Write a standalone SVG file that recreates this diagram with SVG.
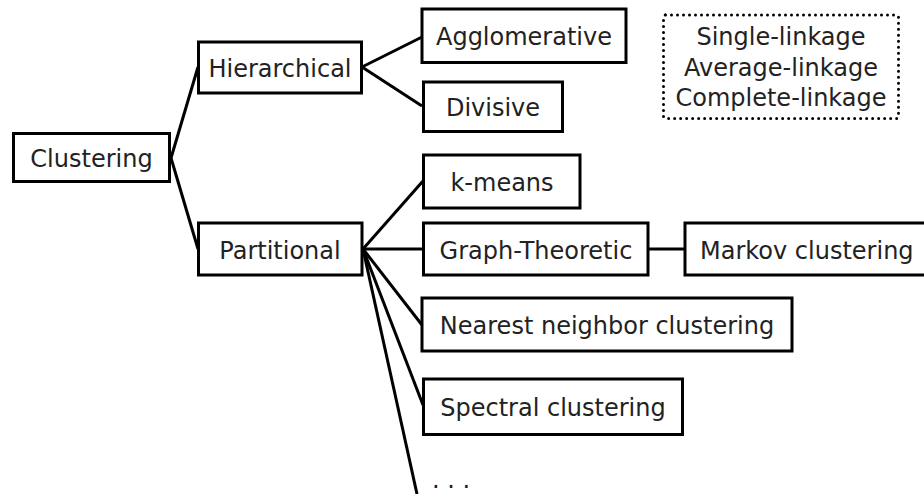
<svg xmlns="http://www.w3.org/2000/svg" width="924" height="494" viewBox="0 0 924 494">
<style>
.box{fill:#fff;stroke:#000;stroke-width:3}
.dot{fill:#fff;stroke:#000;stroke-width:3;stroke-dasharray:0 6;stroke-linecap:round}
.t{font-family:"DejaVu Sans",sans-serif;font-size:24px;fill:#222;text-anchor:middle}
.c line{stroke:#000;stroke-width:3}
</style>
<rect width="924" height="494" fill="#fff"/>
<g class="c" id="connectors">
<line x1="171" y1="158" x2="198" y2="67"/>
<line x1="171" y1="158" x2="198" y2="249"/>
<line x1="362" y1="67" x2="422" y2="37"/>
<line x1="362" y1="67" x2="422" y2="106"/>
<line x1="363" y1="249" x2="423" y2="181"/>
<line x1="363" y1="249" x2="423" y2="249"/>
<line x1="363" y1="249" x2="422" y2="325"/>
<line x1="363" y1="249" x2="423" y2="405"/>
<line x1="363" y1="249" x2="417" y2="494"/>
<line x1="649" y1="249" x2="685" y2="249"/>
</g>
<g id="clustering"><rect class="box" x="13.5" y="133.5" width="156" height="48"/><text class="t" x="91.5" y="167">Clustering</text></g>
<g id="hierarchical"><rect class="box" x="198.5" y="42" width="163" height="51"/><text class="t" x="280" y="77">Hierarchical</text></g>
<g id="partitional"><rect class="box" x="198.5" y="223" width="163.5" height="52"/><text class="t" x="280" y="258.5">Partitional</text></g>
<g id="agglomerative"><rect class="box" x="422" y="9" width="204" height="53.5"/><text class="t" x="524" y="45">Agglomerative</text></g>
<g id="divisive"><rect class="box" x="423.5" y="82" width="139" height="49.5"/><text class="t" x="493" y="116">Divisive</text></g>
<g id="kmeans"><rect class="box" x="423.5" y="155" width="156.5" height="53"/><text class="t" x="502" y="190.5">k-means</text></g>
<g id="graph"><rect class="box" x="423.5" y="223" width="224.5" height="52"/><text class="t" x="536" y="258.5">Graph-Theoretic</text></g>
<g id="markov"><rect class="box" x="685" y="223" width="250" height="52"/><text class="t" x="700" y="258.5" style="text-anchor:start">Markov clustering</text></g>
<g id="nearest"><rect class="box" x="422" y="298" width="370" height="53"/><text class="t" x="607" y="334">Nearest neighbor clustering</text></g>
<g id="spectral"><rect class="box" x="423.5" y="379" width="259" height="55.5"/><text class="t" x="553" y="416">Spectral clustering</text></g>
<g id="ellipsis"><text class="t" x="432" y="488" style="text-anchor:start">. . .</text></g>
<g id="linkage"><rect class="dot" x="663.5" y="15" width="235" height="103.5" rx="2"/>
<text class="t" x="781" y="45">Single-linkage</text>
<text class="t" x="781" y="76">Average-linkage</text>
<text class="t" x="781" y="106">Complete-linkage</text></g>
</svg>
